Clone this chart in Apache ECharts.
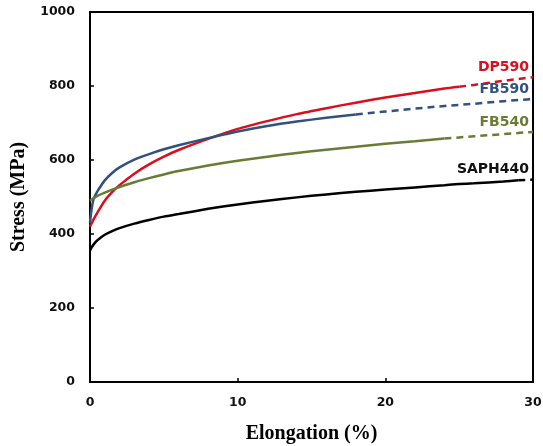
<!DOCTYPE html>
<html>
<head>
<meta charset="utf-8">
<script src="https://cdn.jsdelivr.net/npm/echarts@6/dist/echarts.min.js"></script>
<style>
  html, body { margin: 0; padding: 0; background: #fff; }
  #chart { width: 543px; height: 446px; }
</style>
</head>
<body>
<div id="chart"></div>
<script>
'use strict';

// elongation (%) sample points shared by all curves
const strain = [0, 0.1, 0.25, 0.5, 1, 1.5, 2, 3, 4, 5, 6, 8, 10, 12, 14, 16, 18, 20, 22, 24, 25, 26, 28, 29, 30];

// stress (MPa)
const dp590   = [420, 428, 440, 458, 490, 513, 532, 563, 588, 609, 627, 657, 684, 705, 724, 740, 755, 769, 781, 793, 798, 803, 814, 819, 824];
const fb590   = [430, 465, 495, 515, 545, 565, 580, 601, 616, 629, 640, 659, 677, 692, 704, 714, 723, 731, 739, 746, 749, 752, 759, 762, 765];
const fb540   = [490, 493, 497, 503, 512, 520, 527, 540, 551, 561, 570, 585, 598, 609, 619, 628, 636, 644, 651, 658, 661, 664, 670, 673, 676];
const saph440 = [355, 363, 372, 383, 398, 408, 416, 428, 438, 447, 454, 468, 480, 490, 499, 507, 514, 520, 526, 532, 535, 537, 542, 545, 547];

// measured part ends here, the rest is dashed
const curves = [
    { name: 'DP590',   values: dp590,   color: '#d9101c', split: 25 },
    { name: 'FB590',   values: fb590,   color: '#32517f', split: 18 },
    { name: 'FB540',   values: fb540,   color: '#687c35', split: 24 },
    { name: 'SAPH440', values: saph440, color: '#000000', split: 29 }
];

const pairs = values => strain.map((x, i) => [x, values[i]]);

const series = [];
curves.forEach(c => {
    const pts = pairs(c.values);
    series.push({
        name: c.name,
        type: 'line',
        data: pts.filter(p => p[0] <= c.split),
        smooth: 0.25,
        showSymbol: false,
        lineStyle: { color: c.color, width: 2.5 }
    });
    const last = pts[pts.length - 1];
    series.push({
        name: c.name + ' ext',
        type: 'line',
        data: pts.filter(p => p[0] >= c.split),
        showSymbol: false,
        lineStyle: { color: c.color, width: 2.5, type: [7, 5] },
        markPoint: {
            symbol: 'circle',
            symbolSize: 0,
            data: [{ coord: last, value: c.name }],
            label: {
                show: true,
                position: 'left',
                distance: 4,
                offset: [0, -10],
                formatter: c.name,
                color: c.color === '#000000' ? '#111' : c.color,
                fontFamily: 'DejaVu Sans',
                fontWeight: 'bold',
                fontSize: 14
            }
        }
    });
});

const tickLabel = {
    color: '#111',
    fontFamily: 'DejaVu Sans',
    fontWeight: 'bold',
    fontSize: 12.5,
    formatter: v => String(v)
};

const titleStyle = {
    color: '#000',
    fontFamily: 'Liberation Serif',
    fontWeight: 'bold',
    fontSize: 20
};

const chart = echarts.init(document.getElementById('chart'));
chart.setOption({
    animation: false,
    grid: {
        left: 90, right: 10, top: 12, bottom: 64,
        outerBoundsMode: 'none',
        containLabel: false,
        show: true, borderColor: '#000', borderWidth: 2
    },
    xAxis: {
        type: 'value',
        min: 0, max: 30, interval: 10,
        name: 'Elongation (%)',
        nameLocation: 'middle',
        nameGap: 42,
        nameTextStyle: titleStyle,
        axisLine: { lineStyle: { color: '#000', width: 2 } },
        axisTick: { inside: true, length: 4, lineStyle: { color: '#000', width: 1.5 } },
        axisLabel: Object.assign({ margin: 14 }, tickLabel),
        splitLine: { show: false }
    },
    yAxis: {
        type: 'value',
        min: 0, max: 1000, interval: 200,
        name: 'Stress (MPa)',
        nameLocation: 'middle',
        nameGap: 58,
        nameTextStyle: titleStyle,
        axisLine: { show: true, lineStyle: { color: '#000', width: 2 } },
        axisTick: { show: true, inside: true, length: 4, lineStyle: { color: '#000', width: 1.5 } },
        axisLabel: Object.assign({ margin: 15 }, tickLabel),
        splitLine: { show: false }
    },
    series: series
});
</script>
</body>
</html>
